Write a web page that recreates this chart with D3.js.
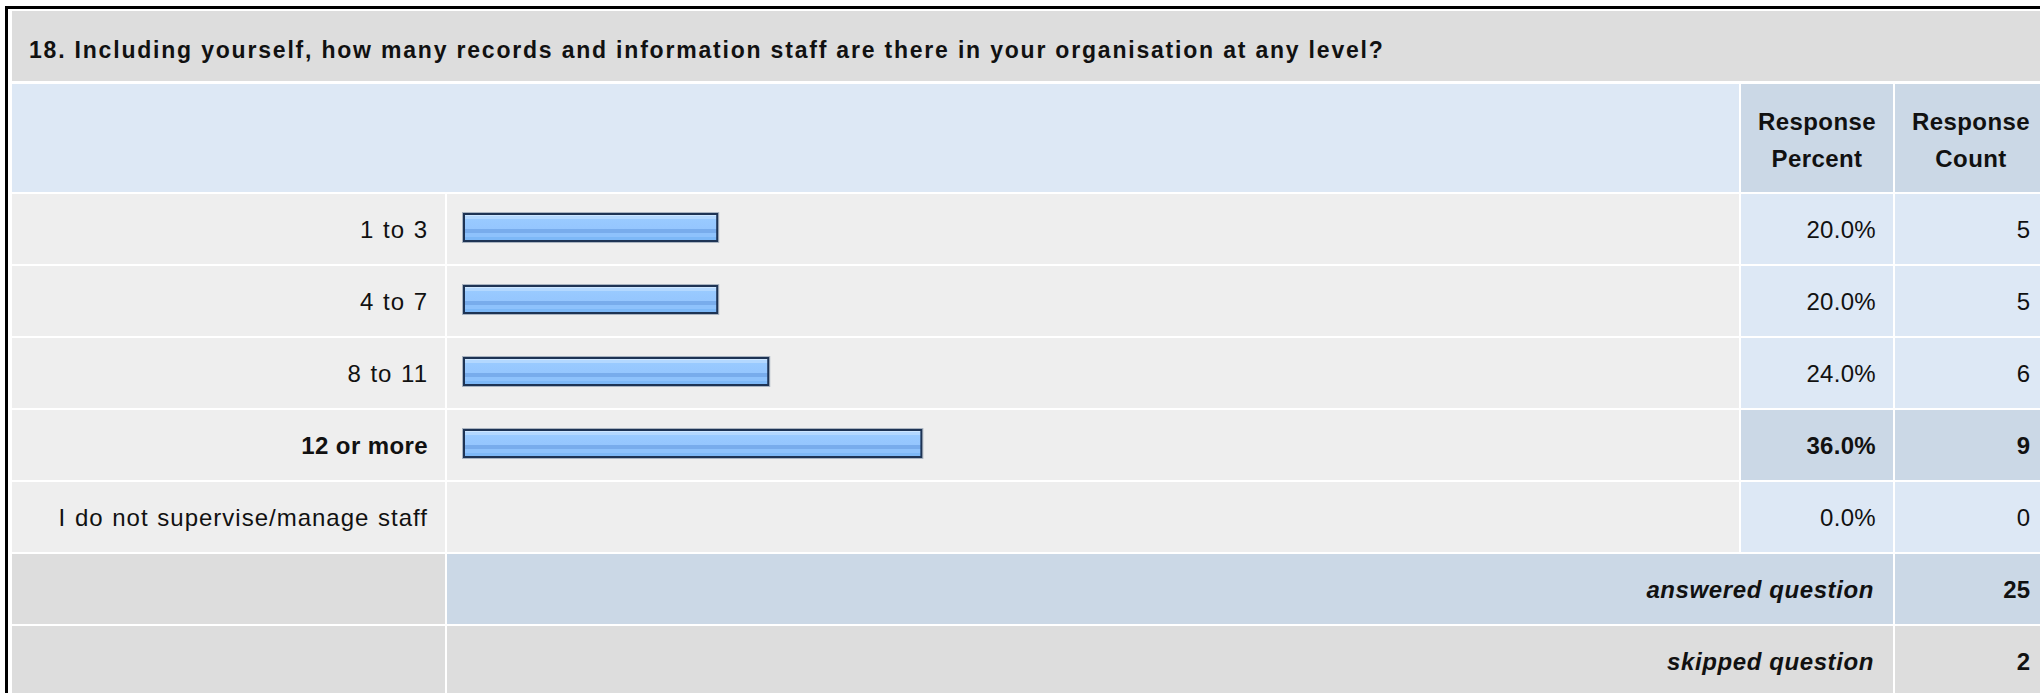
<!DOCTYPE html>
<html>
<head>
<meta charset="utf-8">
<script src="https://cdn.jsdelivr.net/npm/d3@7"></script>
<style>
  html, body { margin: 0; padding: 0; background: #fff; }
  svg { display: block; font-family: "Liberation Sans", Arial, Helvetica, sans-serif; }
</style>
</head>
<body>
<svg id="chart" width="2040" height="693"></svg>
<script>
// Survey question and its answer table
const title = "18. Including yourself, how many records and information staff are there in your organisation at any level?";
const categories = ["1 to 3", "4 to 7", "8 to 11", "12 or more", "I do not supervise/manage staff"];
const percents = [20.0, 20.0, 24.0, 36.0, 0.0];
const counts = [5, 5, 6, 9, 0];
const headerPercent = ["Response", "Percent"];
const headerCount = ["Response", "Count"];
const summaryLabels = ["answered question", "skipped question"];
const summaryValues = [25, 2];

const svg = d3.select("#chart");

// column edges (cells separated by thin white gaps)
const col = {
  label: [12, 445],
  bar: [447, 1739],
  pct: [1741, 1893],
  cnt: [1895, 2047]
};
const pad = 17;

const C = {
  title: "#dddddd",
  head: "#dde8f5",
  headDark: "#cbd8e6",
  cell: "#eeeeee",
  blue: "#dde8f5",
  blueDark: "#cbd8e6",
  grey: "#dddddd",
  text: "#111"
};

// one band per body row: the answers followed by the two summary rows
const nRows = categories.length + summaryLabels.length;
const y = d3.scaleBand().domain(d3.range(nRows)).range([192, 192 + 72 * nRows]);
const cellTop = i => y(i) + 2;
const cellH = y.bandwidth() - 2;
const baseline = i => cellTop(i) + cellH / 2 + 9;

// bar length scale: 100% spans the bar column less its left padding
const x = d3.scaleLinear().domain([0, 100]).range([463, 463 + 1276]);

const maxCount = d3.max(counts);

function cell(x0, x1, y0, h, fill) {
  svg.append("rect").attr("x", x0).attr("y", y0).attr("width", x1 - x0).attr("height", h).attr("fill", fill);
}
function text(str, xp, yp, anchor, opts = {}) {
  return svg.append("text")
    .attr("x", xp).attr("y", yp)
    .attr("text-anchor", anchor)
    .attr("font-size", opts.size || 24)
    .attr("font-weight", opts.bold ? "bold" : "normal")
    .attr("font-style", opts.italic ? "italic" : "normal")
    .attr("letter-spacing", opts.ls != null ? opts.ls : 0.8)
    .attr("word-spacing", opts.ws || 0)
    .attr("fill", C.text)
    .text(str);
}

// title row
cell(col.label[0], col.cnt[1], 11, 70, C.title);
text(title, 29, 58, "start", { size: 23, bold: true, ls: 1.8 });

// header row
cell(col.label[0], col.bar[1], 84, 108, C.head);
cell(col.pct[0], col.pct[1], 84, 108, C.headDark);
cell(col.cnt[0], col.cnt[1], 84, 108, C.headDark);
[[headerPercent, col.pct], [headerCount, col.cnt]].forEach(([lines, c]) => {
  const cx = (c[0] + c[1]) / 2;
  lines.forEach((ln, k) => text(ln, cx, 130 + k * 37, "middle", { bold: true, ls: 0.4 }));
});

// gradient for the glossy bars (horizontal bands)
const grad = svg.append("defs").append("linearGradient")
  .attr("id", "barFill").attr("x1", 0).attr("y1", 0).attr("x2", 0).attr("y2", 1);
[
  [0, "#cde6ff"], [0.09, "#cde6ff"], [0.09, "#b3d8ff"], [0.19, "#b3d8ff"],
  [0.19, "#99caff"], [0.55, "#95c6fe"], [0.55, "#78acec"], [0.70, "#78acec"],
  [0.70, "#8ec2fc"], [0.84, "#8ec2fc"], [0.84, "#7db8f7"], [1, "#7db8f7"]
].forEach(([o, c]) => grad.append("stop").attr("offset", o).attr("stop-color", c));

// answer rows
categories.forEach((cat, i) => {
  const hi = counts[i] === maxCount;
  const t = cellTop(i);
  cell(col.label[0], col.label[1], t, cellH, C.cell);
  cell(col.bar[0], col.bar[1], t, cellH, C.cell);
  cell(col.pct[0], col.pct[1], t, cellH, hi ? C.blueDark : C.blue);
  cell(col.cnt[0], col.cnt[1], t, cellH, hi ? C.blueDark : C.blue);

  text(cat, col.label[1] - pad, baseline(i), "end", hi ? { bold: true, ls: 0.4 } : { ls: 1.0, ws: 1 });
  text(d3.format(".1f")(percents[i]) + "%", col.pct[1] - pad, baseline(i), "end", { bold: hi, ls: 0.3 });
  text(counts[i], col.cnt[1] - pad, baseline(i), "end", { bold: hi, ls: 0 });

  const w = x(percents[i]) - x(0);
  if (w > 0) {
    const by = t + 19;
    const bh = 29;
    svg.append("rect")
      .attr("x", x(0) - 0.5).attr("y", by - 0.5)
      .attr("width", w + 1).attr("height", bh + 1)
      .attr("fill", "none").attr("stroke", "#a9b3c0").attr("stroke-width", 1);
    svg.append("rect")
      .attr("x", x(0) + 1).attr("y", by + 1)
      .attr("width", w - 2).attr("height", bh - 2)
      .attr("fill", "url(#barFill)")
      .attr("stroke", "#1d3354").attr("stroke-width", 2);
  }
});

// summary rows
summaryLabels.forEach((lab, k) => {
  const i = categories.length + k;
  const t = cellTop(i);
  const mid = k === 0 ? C.blueDark : C.grey;
  cell(col.label[0], col.label[1], t, cellH + 10, C.grey);
  cell(col.bar[0], col.pct[1], t, cellH + 10, mid);
  cell(col.cnt[0], col.cnt[1], t, cellH + 10, mid);
  if (k === 0) {
    // keep the white gap under the answered row
    svg.append("rect").attr("x", 0).attr("y", t + cellH).attr("width", 2040).attr("height", 2).attr("fill", "#fff");
  }
  text(lab, col.pct[1] - pad - 2, baseline(i), "end", { bold: true, italic: true, ls: 0.6 });
  text(summaryValues[k], col.cnt[1] - pad, baseline(i), "end", { bold: true, ls: 0 });
});

// outer frame
svg.append("rect")
  .attr("x", 6.5).attr("y", 7.5).attr("width", 2060).attr("height", 720)
  .attr("fill", "none").attr("stroke", "#000").attr("stroke-width", 3);
</script>
</body>
</html>
